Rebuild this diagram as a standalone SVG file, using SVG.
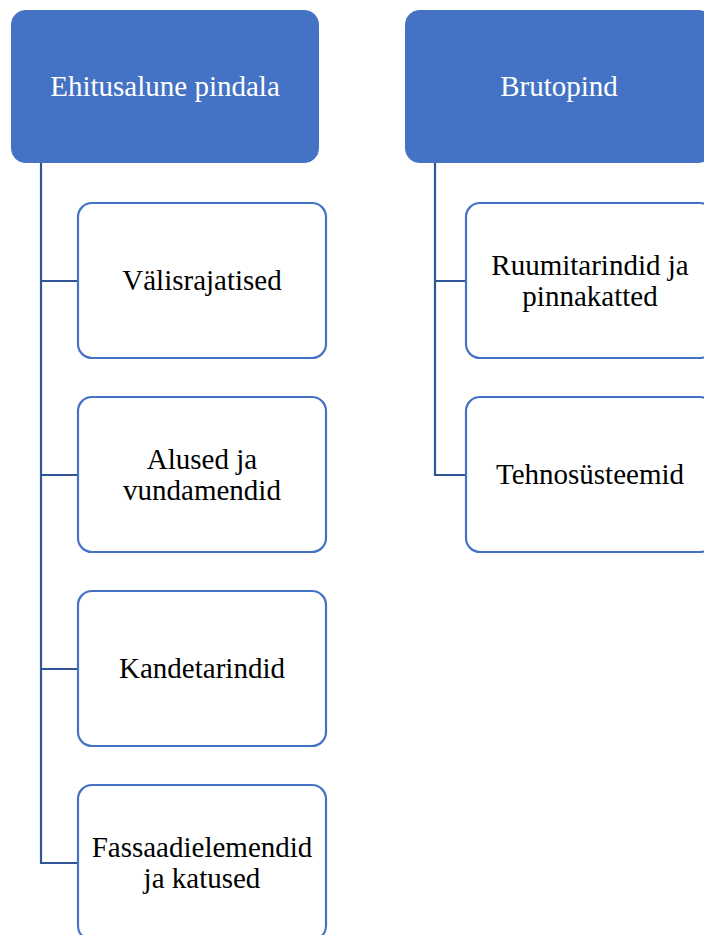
<svg xmlns="http://www.w3.org/2000/svg" width="704" height="935" viewBox="0 0 704 935">
<style>
.hdr{fill:#4472C4;stroke:#4472C4;stroke-width:1}
.box{fill:#FFFFFF;stroke:#4472C4;stroke-width:2.2}
.conn{fill:none;stroke:#2F5597;stroke-width:2.2}
.ht{font-family:"Liberation Serif","Times New Roman",serif;font-size:29px;fill:#FFFFFF;text-anchor:middle}
.ct{font-family:"Liberation Serif","Times New Roman",serif;font-size:29px;fill:#000000;text-anchor:middle}
</style>
<rect width="704" height="935" fill="#FFFFFF"/>
<g id="connectors">
<path class="conn" d="M41,163 V863 H78 M41,281 H78 M41,475 H78 M41,669 H78"/>
<path class="conn" d="M435,163 V475 H466 M435,281 H466"/>
</g>
<g id="n-ehitusalune">
<rect class="hdr" x="11.5" y="10.5" width="307" height="152" rx="14"/>
<text class="ht" x="165" y="96">Ehitusalune pindala</text>
</g>
<g id="n-brutopind">
<rect class="hdr" x="405.5" y="10.5" width="307" height="152" rx="14"/>
<text class="ht" x="559" y="96">Brutopind</text>
</g>
<g id="n-valisrajatised">
<rect class="box" x="78" y="203" width="248" height="155" rx="14"/>
<text class="ct" x="202" y="290">Välisrajatised</text>
</g>
<g id="n-alused">
<rect class="box" x="78" y="397" width="248" height="155" rx="14"/>
<text class="ct" x="202" y="469">Alused ja</text>
<text class="ct" x="202" y="500">vundamendid</text>
</g>
<g id="n-kandetarindid">
<rect class="box" x="78" y="591" width="248" height="155" rx="14"/>
<text class="ct" x="202" y="678">Kandetarindid</text>
</g>
<g id="n-fassaad">
<rect class="box" x="78" y="785" width="248" height="155" rx="14"/>
<text class="ct" x="202" y="857">Fassaadielemendid</text>
<text class="ct" x="202" y="888">ja katused</text>
</g>
<g id="n-ruumitarindid">
<rect class="box" x="466" y="203" width="248" height="155" rx="14"/>
<text class="ct" x="590" y="275">Ruumitarindid ja</text>
<text class="ct" x="590" y="306">pinnakatted</text>
</g>
<g id="n-tehnosusteemid">
<rect class="box" x="466" y="397" width="248" height="155" rx="14"/>
<text class="ct" x="590" y="484">Tehnosüsteemid</text>
</g>
</svg>
